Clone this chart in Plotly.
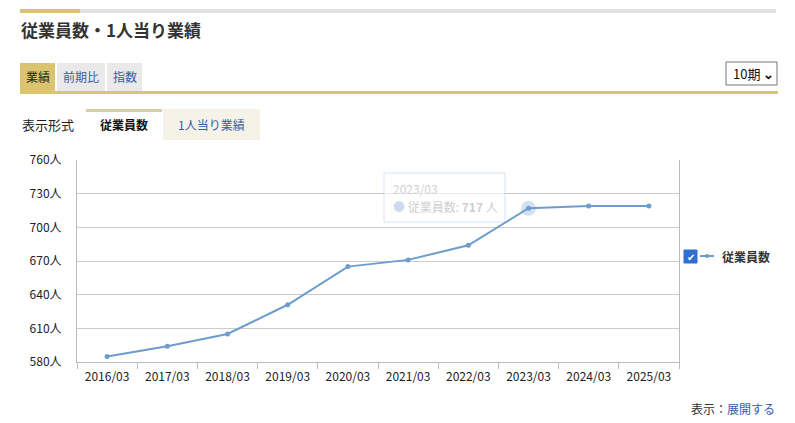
import plotly.graph_objects as go

# data
periods = ["2016/03", "2017/03", "2018/03", "2019/03", "2020/03",
           "2021/03", "2022/03", "2023/03", "2024/03", "2025/03"]
employees = [585, 594, 605, 631, 665, 671, 684, 717, 719, 719]
y_ticks = [580, 610, 640, 670, 700, 730, 760]
y_labels = [f"{v}人" for v in y_ticks]
hover_idx = 7

W, H = 795, 423
L, R, T, B = 77, 679, 160, 362
FONT = "Meiryo, Noto Sans CJK JP, sans-serif"
LINE_C = "#6d9ccf"
GOLD = "#dcc46e"


def X(px):
    return (px - L) / (R - L)


def Y(py):
    return (B - py) / (B - T)


fig = go.Figure()

fig.add_trace(go.Scatter(
    x=periods, y=employees, mode="lines+markers", name="従業員数",
    line=dict(color=LINE_C, width=2),
    marker=dict(size=5, color=LINE_C),
))

# hover halo on 2023/03
fig.add_trace(go.Scatter(
    x=[periods[hover_idx]], y=[employees[hover_idx]],
    mode="markers", hoverinfo="skip",
    marker=dict(size=15, color="rgba(109,156,207,0.3)"),
))

shapes = []
ann = []


def rect(x0, y0, x1, y1, fill, line=None, lw=0):
    shapes.append(dict(type="rect", xref="paper", yref="paper",
                       x0=X(x0), x1=X(x1), y0=Y(y0), y1=Y(y1),
                       fillcolor=fill, line=dict(color=line or fill, width=lw),
                       layer="above"))


def text(px, py, s, size=12, color="#333", bold=False, xanchor="left"):
    ann.append(dict(xref="paper", yref="paper", x=X(px), y=Y(py), text=s,
                    showarrow=False, xanchor=xanchor, yanchor="middle",
                    font=dict(family=FONT, size=size, color=color,
                              weight="bold" if bold else "normal")))


# header bars
rect(20, 9, 80, 13, GOLD)
rect(80, 9, 776, 13, "#e2e2e2")
text(19, 29, "従業員数・1人当り業績", size=17, color="#333", bold=True)

# tabs
rect(20, 63, 55, 92, GOLD)
rect(57, 63, 105, 92, "#e9e9e9")
rect(107, 63, 142, 92, "#e9e9e9")
rect(20, 91, 778, 94, GOLD)
text(37.5, 76, "業績", size=12, color="#222", xanchor="center")
text(81, 76, "前期比", size=12, color="#3a5ba8", xanchor="center")
text(124.5, 76, "指数", size=12, color="#3a5ba8", xanchor="center")

# period select
rect(726, 62, 777, 85, "white", line="#767676", lw=1)
text(731, 73.5, "10期 <b>⌄</b>", size=13, color="#111")

# display format tabs
text(20, 124, "表示形式", size=13, color="#222")
rect(86, 109, 162, 140, "white")
rect(86, 109, 162, 112, "#d8cca2")
rect(163, 109, 260, 140, "#f5f2e8")
text(124, 124, "従業員数", size=12, color="#111", bold=True, xanchor="center")
text(211.5, 124, "1人当り業績", size=12, color="#3a5ba8", xanchor="center")

# legend drawn by hand (checkbox + symbol + label)
rect(684, 250, 697, 263, "#2f6fd0", line="#2f6fd0", lw=1)
text(690.5, 256.5, "✔", size=10, color="white", xanchor="center")
shapes.append(dict(type="line", xref="paper", yref="paper",
                   x0=X(700), x1=X(714), y0=Y(256), y1=Y(256),
                   line=dict(color=LINE_C, width=2), layer="above"))
shapes.append(dict(type="circle", xref="paper", yref="paper",
                   x0=X(705), x1=X(709), y0=Y(254), y1=Y(258),
                   fillcolor=LINE_C, line=dict(color=LINE_C, width=0),
                   layer="above"))
text(720, 256, "従業員数", size=12, color="#333", bold=True)

# faded tooltip
rect(384, 173, 505, 222, "rgba(255,255,255,0.6)", line="rgba(109,156,207,0.25)", lw=1)
text(391, 188, "2023/03", size=12, color="#d0d0d0")
text(391, 206, "<span style='color:rgba(109,156,207,0.35)'>●</span> 従業員数: <b>717</b> 人",
     size=12, color="#cfcfcf")

# footer
text(777, 408, "表示：<span style='color:#3a5ba8'>展開する</span>", size=12,
     color="#333", xanchor="right")

fig.update_layout(
    width=W, height=H,
    margin=dict(l=L, r=W - R, t=T, b=H - B, pad=0),
    paper_bgcolor="white", plot_bgcolor="white",
    showlegend=False,
    shapes=shapes, annotations=ann,
    font=dict(family=FONT, size=12, color="#333"),
)
fig.update_xaxes(
    type="category", categoryorder="array", categoryarray=periods,
    tickson="boundaries", ticks="outside", ticklen=6,
    tickcolor="#bbb", showgrid=False, showline=True, linecolor="#bbb",
    mirror=False, tickfont=dict(size=12, color="#222"),
    ticklabelstandoff=4,
    range=[-0.5, len(periods) - 0.5],
)
fig.update_yaxes(
    range=[y_ticks[0], y_ticks[-1]], tickvals=y_ticks, ticktext=y_labels,
    showgrid=True, gridcolor="#ccc", zeroline=False,
    showline=True, linecolor="#bbb", mirror=True, ticks="", ticklen=0,
    tickfont=dict(size=12, color="#222"),
    ticklabelstandoff=12,
)

# the page's default body margin would push the figure off by 8px
fig.write_html("out.html", config={"displayModeBar": False},
               post_script="document.body.style.margin='0';")
